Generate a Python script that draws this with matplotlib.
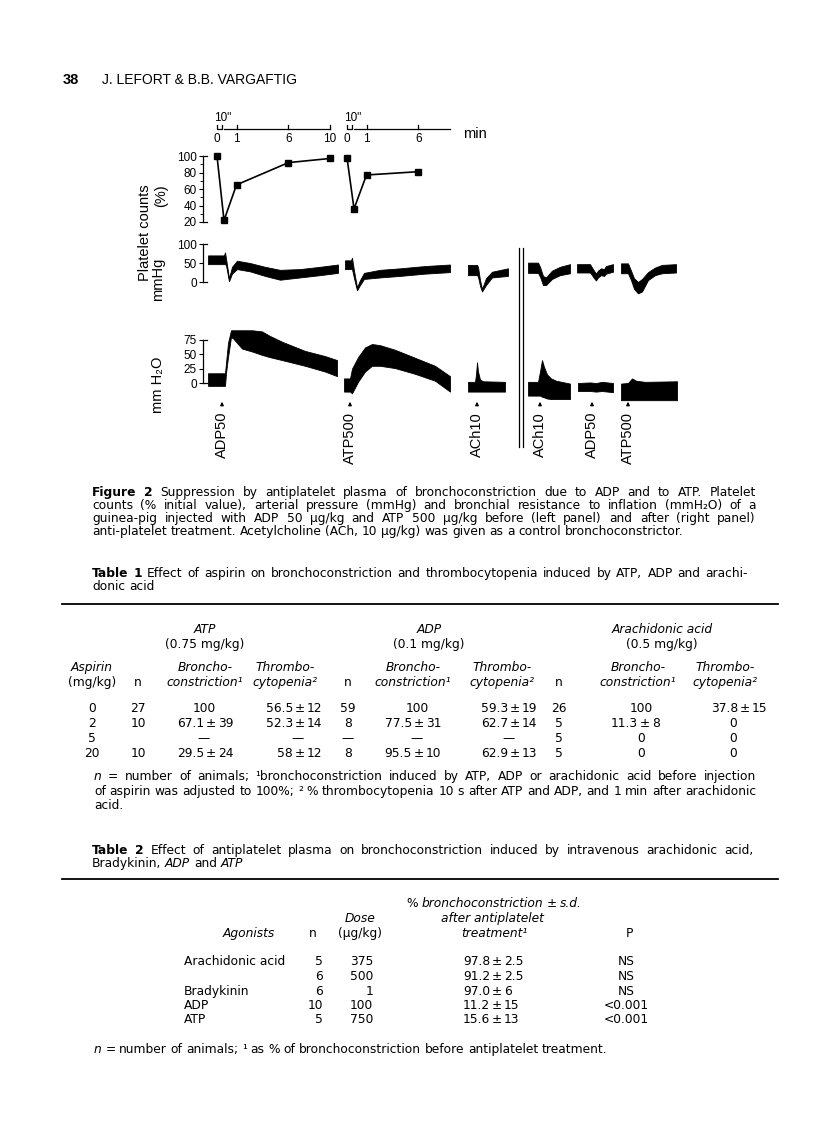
import matplotlib.pyplot as plt
import numpy as np
from matplotlib.lines import Line2D
from matplotlib.transforms import blended_transform_factory as blend

W, H = 816, 1145
SANS = ['Liberation Sans', 'DejaVu Sans']   # figure lettering
BODY = ['DejaVu Sans']                      # caption and table text (wide face)
plt.rcParams['font.family'] = SANS
plt.rcParams['mathtext.fontset'] = 'custom'
plt.rcParams['mathtext.rm'] = 'DejaVu Sans'
plt.rcParams['mathtext.it'] = 'DejaVu Sans:italic'
plt.rcParams['mathtext.bf'] = 'DejaVu Sans:bold'

# ---- Figure 2 data ----
# platelet counts (% initial) against time (min)
t_before = [0, 10 / 60, 1, 6, 10]
plt_before = [100, 22, 65, 92, 97]
t_after = [0, 10 / 60, 1, 6]
plt_after = [98, 36, 77, 81]

# injections: position on the recorder chart and agent
inj_pos = [22, 150, 277, 340, 392, 428]
inj_label = ['ADP50', 'ATP500', 'ACh10', 'ACh10', 'ADP50', 'ATP500']
split_pos = [319, 323]  # before / after anti-platelet treatment

# arterial pressure traces (mmHg), envelope of the recorded band
bp_x = [
    [8, 24, 25, 26, 29, 32, 37, 50, 65, 80, 100, 120, 138],
    [145, 151, 152, 154, 157, 160, 164, 180, 200, 225, 250],
    [268, 277, 278, 280, 282, 286, 292, 308],
    [328, 338, 340, 343, 346, 352, 360, 370],
    [377, 390, 392, 394, 396, 398, 401, 404, 406, 413],
    [421, 428, 431, 434, 438, 442, 448, 455, 462, 476],
]
bp_top = [
    [70, 70, 78, 62, 10, 40, 56, 50, 40, 32, 34, 40, 46],
    [57, 57, 64, 30, -14, 5, 24, 32, 36, 42, 46],
    [45, 45, 40, 5, -18, 10, 27, 36],
    [51, 51, 40, 16, 12, 30, 40, 47],
    [47, 47, 38, 30, 22, 30, 36, 34, 42, 47],
    [49, 49, 30, 10, 0, 8, 26, 38, 45, 47],
]
bp_bot = [
    [47, 47, 47, 44, 2, 22, 34, 28, 16, 6, 12, 18, 24],
    [34, 34, 34, 10, -22, -8, 8, 12, 16, 22, 26],
    [18, 18, 14, -10, -25, -8, 12, 16],
    [24, 24, 14, -8, -8, 8, 18, 23],
    [25, 25, 18, 10, 4, 12, 18, 16, 22, 27],
    [23, 23, 5, -18, -30, -25, 5, 18, 23, 25],
]

# bronchial resistance traces (mm H2O)
br_x = [
    [8, 25, 26, 28, 31, 33, 42, 52, 62, 70, 82, 105, 125, 137],
    [144, 150, 152, 158, 165, 172, 180, 195, 215, 235, 250],
    [268, 275, 276, 277, 278, 280, 283, 305],
    [328, 338, 340, 342, 344, 347, 351, 356, 370],
    [378, 390, 396, 402, 413],
    [421, 428, 432, 436, 445, 477],
]
br_top = [
    [17, 17, 35, 70, 92, 92, 92, 92, 90, 82, 72, 56, 47, 40],
    [8, 8, 25, 45, 62, 68, 66, 58, 44, 30, 12],
    [2, 2, 15, 36, 20, 6, 3, 2],
    [2, 2, 20, 40, 28, 15, 8, 4, -1],
    [0, 1, 0, 2, 0],
    [-1, 0, 8, 4, 2, 3],
]
br_bot = [
    [-5, -5, 17, 45, 80, 78, 60, 55, 49, 45, 40, 30, 20, 12],
    [-15, -15, -18, 2, 20, 30, 30, 26, 16, 4, -15],
    [-15, -15, -15, -15, -15, -15, -15, -15],
    [-22, -22, -22, -24, -25, -27, -28, -28, -28],
    [-14, -14, -15, -14, -16],
    [-30, -30, -30, -30, -30, -30],
]

# ---- Table 1 ----
aspirin_dose = ['0', '2', '5', '20']
atp_n = ['27', '10', '', '10']
atp_broncho = ['100', '67.1 ± 39', '—', '29.5 ± 24']
atp_thrombo = ['56.5 ± 12', '52.3 ± 14', '—', '58 ± 12']
adp_n = ['59', '8', '—', '8']
adp_broncho = ['100', '77.5 ± 31', '—', '95.5 ± 10']
adp_thrombo = ['59.3 ± 19', '62.7 ± 14', '—', '62.9 ± 13']
aa_n = ['26', '5', '5', '5']
aa_broncho = ['100', '11.3 ± 8', '0', '0']
aa_thrombo = ['37.8 ± 15', '0', '0', '0']

# ---- Table 2 ----
agonists = ['Arachidonic acid', '', 'Bradykinin', 'ADP', 'ATP']
t2_n = ['5', '6', '6', '10', '5']
t2_dose = ['375', '500', '1', '100', '750']
t2_pct = ['97.8 ± 2.5', '91.2 ± 2.5', '97.0 ± 6', '11.2 ± 15', '15.6 ± 13']
t2_p = ['NS', 'NS', 'NS', '<0.001', '<0.001']

fig = plt.figure(figsize=(W / 100, H / 100), dpi=100)
R = fig.canvas.get_renderer()
L, RM = 92, 756  # text block margins

# text size chosen so the last caption line is as long as in the print (~598 px)
_probe = fig.text(0, 0, 'anti-platelet treatment. Acetylcholine (ACh, 10 µg/kg) was given as a control '
                  'bronchoconstrictor.', fontsize=10, family=BODY)
TS = round(10 * 596 / _probe.get_window_extent(R).width, 2)
_probe.remove()


def px(x, y):
    return x / W, 1 - y / H


def rect(x0, y0, x1, y1):
    return [x0 / W, 1 - y1 / H, (x1 - x0) / W, (y1 - y0) / H]


def put(x, y, s, size=None, ha='center', st='n', fam=BODY, **kw):
    return fig.text(*px(x, y), s, fontsize=size or TS, ha=ha, va='center_baseline', family=fam,
                    style='italic' if st == 'i' else 'normal',
                    weight='bold' if st == 'b' else 'normal', **kw)


def line(segs, x0, y, size=None, x1=None, center=None):
    size = size or TS
    arts = []
    for txt, st in segs:
        for w in txt.split():
            arts.append(put(x0, y, w, size, 'left', st))
    wd = [a.get_window_extent(R).width for a in arts]
    gap = size * 1.39 * 0.3 if x1 is None else (x1 - x0 - sum(wd)) / (len(arts) - 1)
    if center is not None:
        x0 = center - (sum(wd) + gap * (len(arts) - 1)) / 2
    x = x0
    for a, w in zip(arts, wd):
        a.set_x(x / W)
        x += w + gap


def cell(x, y, s):
    # numbers with s.d. are lined up on the ± sign
    if '±' in s:
        m, sd = s.split(' ± ')
        put(x - 7, y, m, ha='right')
        put(x, y, '±')
        put(x + 7, y, sd, ha='left')
    else:
        put(x, y, s)


def hrule(y, x0=62, x1=778, lw=1.3):
    fig.add_artist(Line2D([x0 / W, x1 / W], [1 - y / H] * 2, color='k', lw=lw))


# page header
put(63, 78, '38', 10.5, 'left', 'b', SANS)
put(102, 78, 'J. LEFORT & B.B. VARGAFTIG', 10, 'left', 'n', SANS)


def panel(y_top, y_bot, lo, hi, blo, bhi, ticks, minor=None):
    ax = fig.add_axes(rect(203, y_top, 690, y_bot))
    ax.set_xlim(3, 490)
    ax.set_ylim(lo, hi)
    for s in ['top', 'right', 'bottom']:
        ax.spines[s].set_visible(False)
    ax.spines['left'].set_bounds(blo, bhi)
    ax.spines['left'].set_linewidth(0.9)
    ax.set_xticks([])
    ax.set_yticks(ticks)
    if minor:
        ax.set_yticks(minor, minor=True)
    ax.tick_params(axis='y', which='major', direction='out', length=3, width=0.8, pad=1.5, labelsize=8.5)
    ax.tick_params(axis='y', which='minor', direction='out', length=2, width=0.6)
    ax.patch.set_visible(False)
    cap = 4 / 487
    for v in (blo, bhi):
        ax.plot([0, cap], [v, v], transform=ax.get_yaxis_transform(), color='k', lw=0.9, clip_on=False)
    return ax


def chart_pos(t, start):
    return start + np.interp(t, [0, 1 / 6, 1, 10], [0, 7, 19.5, 113])


# platelet counts
ax_pl = panel(156, 222, 20, 100, 20, 100, [20, 40, 60, 80, 100], [30, 50, 70, 90])
for t, v, st in [(t_before, plt_before, 17), (t_after, plt_after, 147)]:
    ax_pl.plot(chart_pos(np.array(t), st), v, color='k', lw=1.2, marker='s', ms=4, clip_on=False)

# time scale above the platelet counts
tl = blend(ax_pl.transData, fig.transFigure)
yl, yt = 1 - 129 / H, 1 - 125 / H
for st, tend, tlab in [(17, 10, [0, 1, 6, 10]), (147, 9, [0, 1, 6])]:
    a, b = chart_pos(0, st), chart_pos(1 / 6, st)
    ax_pl.plot([a, a, b - 2, b - 2], [yt, yl, yl, yt], transform=tl, color='k', lw=0.9, clip_on=False)
    e = chart_pos(tend, st)
    ax_pl.plot([b, e], [yl, yl], transform=tl, color='k', lw=0.9, clip_on=False)
    for tk in [1, 6, 10]:
        if tk <= tend:
            p = chart_pos(tk, st)
            ax_pl.plot([p, p], [yl, yt], transform=tl, color='k', lw=0.9, clip_on=False)
    for tk in tlab:
        ax_pl.text(chart_pos(tk, st), 1 - 139 / H, str(tk), transform=tl, ha='center', va='center', fontsize=8.5)
    ax_pl.text(chart_pos(1 / 12, st) + 2, 1 - 118 / H, '10"', transform=tl, ha='center', va='center', fontsize=8.5)
ax_pl.text(263, 1 - 134 / H, 'min', transform=tl, ha='left', va='center', fontsize=10.5)

# arterial pressure
ax_bp = panel(244, 282 + 35 * 0.38, -35, 100, 0, 100, [0, 50, 100])
for x, t, b in zip(bp_x, bp_top, bp_bot):
    ax_bp.fill_between(x, b, t, color='k', lw=0.6, ec='k')

# bronchial resistance
k = 43 / 75
ax_br = panel(383 - 95 * k, 383 + 35 * k, -35, 95, 0, 75, [0, 25, 50, 75])
for x, t, b in zip(br_x, br_top, br_bot):
    ax_br.fill_between(x, b, t, color='k', lw=0.6, ec='k')

tb = blend(ax_br.transData, fig.transFigure)
for p, lab in zip(inj_pos, inj_label):
    ax_br.annotate('', xy=(p, 1 - 399 / H), xytext=(p, 1 - 408 / H), xycoords=tb, textcoords=tb,
                   arrowprops=dict(arrowstyle='-|>', lw=0.8, color='k', mutation_scale=5))
    ax_br.text(p, 1 - 412 / H, lab, transform=tb, rotation=90, ha='center', va='top', fontsize=10.5)
for p in split_pos:
    ax_br.plot([p, p], [1 - 248 / H, 1 - 447 / H], transform=tb, color='k', lw=0.9, clip_on=False)

# y labels
put(145, 190, 'Platelet counts', 10.5, fam=SANS, rotation=90)
put(161, 190, '(%)', 10.5, fam=SANS, rotation=90)
put(158, 263, 'mmHg', 10.5, fam=SANS, rotation=90)
put(158, 362, 'mm H₂O', 10.5, fam=SANS + ['DejaVu Sans'], rotation=90)

# caption
line([('Figure 2', 'b'), ('Suppression by antiplatelet plasma of bronchoconstriction due to ADP and to ATP. Platelet', 'n')],
     L, 491, x1=RM)
line([('counts (% initial value), arterial pressure (mmHg) and bronchial resistance to inflation (mmH₂O) of a', 'n')],
     L, 504, x1=RM)
line([('guinea-pig injected with ADP 50 µg/kg and ATP 500 µg/kg before (left panel) and after (right panel)', 'n')],
     L, 517, x1=RM)
line([('anti-platelet treatment. Acetylcholine (ACh, 10 µg/kg) was given as a control bronchoconstrictor.', 'n')],
     L, 530)

# Table 1
line([('Table 1', 'b'), ('Effect of aspirin on bronchoconstriction and thrombocytopenia induced by ATP, ADP and arachi-', 'n')],
     L, 572, x1=RM - 8)
line([('donic acid', 'n')], L, 585)
hrule(604)

for c, name, dose in [(205, 'ATP', '(0.75 mg/kg)'), (429, 'ADP', '(0.1 mg/kg)'), (662, 'Arachidonic acid', '(0.5 mg/kg)')]:
    put(c, 628, name, st='i')
    put(c, 643, dose)
put(92, 666, 'Aspirin', st='i')
put(92, 681, '(mg/kg)')
for c in (138, 348, 559):
    put(c, 681, 'n')
for c in (205, 413, 638):
    put(c, 666, 'Broncho-', st='i')
    put(c, 681, 'constriction¹', st='i')
for c in (285, 502, 725):
    put(c, 666, 'Thrombo-', st='i')
    put(c, 681, 'cytopenia²', st='i')

# column centre for plain entries, ± position for mean ± s.d. entries
t1_cols = [(92, 0), (138, 0), (204, 211), (298, 300), (348, 0), (417, 419), (509, 515),
           (559, 0), (641, 645), (733, 745)]
table1 = [aspirin_dose, atp_n, atp_broncho, atp_thrombo, adp_n, adp_broncho, adp_thrombo,
          aa_n, aa_broncho, aa_thrombo]
t1_rows = [707, 722, 737, 752]
for (c, pm), col in zip(t1_cols, table1):
    for y, s in zip(t1_rows, col):
        if s:
            cell(pm if '±' in s else c, y, s)

line([('n', 'i'), ('= number of animals; ¹bronchoconstriction induced by ATP, ADP or arachidonic acid before injection', 'n')],
     94, 775, x1=RM)
line([('of aspirin was adjusted to 100%; ² % thrombocytopenia 10 s after ATP and ADP, and 1 min after arachidonic', 'n')],
     94, 790, x1=RM)
line([('acid.', 'n')], 94, 804)

# Table 2
line([('Table 2', 'b'), ('Effect of antiplatelet plasma on bronchoconstriction induced by intravenous arachidonic acid,', 'n')],
     L, 849, x1=RM - 3)
line([('Bradykinin,', 'n'), ('ADP', 'i'), ('and', 'n'), ('ATP', 'i')], L, 862)
hrule(879)

line([('%', 'n'), ('bronchoconstriction', 'i'), ('±', 'n'), ('s.d.', 'i')], 0, 902, center=494)
put(360, 917, 'Dose', st='i')
put(492, 917, 'after antiplatelet', st='i')
put(249, 932, 'Agonists', st='i')
put(313, 932, 'n')
put(360, 932, '(µg/kg)')
put(494, 932, 'treatment¹', st='i')
put(629, 932, 'P')

t2_rows = [960, 975, 990, 1004, 1018]
for r, y in enumerate(t2_rows):
    put(184, y, agonists[r], ha='left')
    put(323, y, t2_n[r], ha='right')
    put(373, y, t2_dose[r], ha='right')
    cell(497, y, t2_pct[r])
    put(626, y, t2_p[r])

line([('n', 'i'), ('= number of animals; ¹ as % of bronchoconstriction before antiplatelet treatment.', 'n')],
     94, 1048)

fig.savefig('out.png', dpi=100)
